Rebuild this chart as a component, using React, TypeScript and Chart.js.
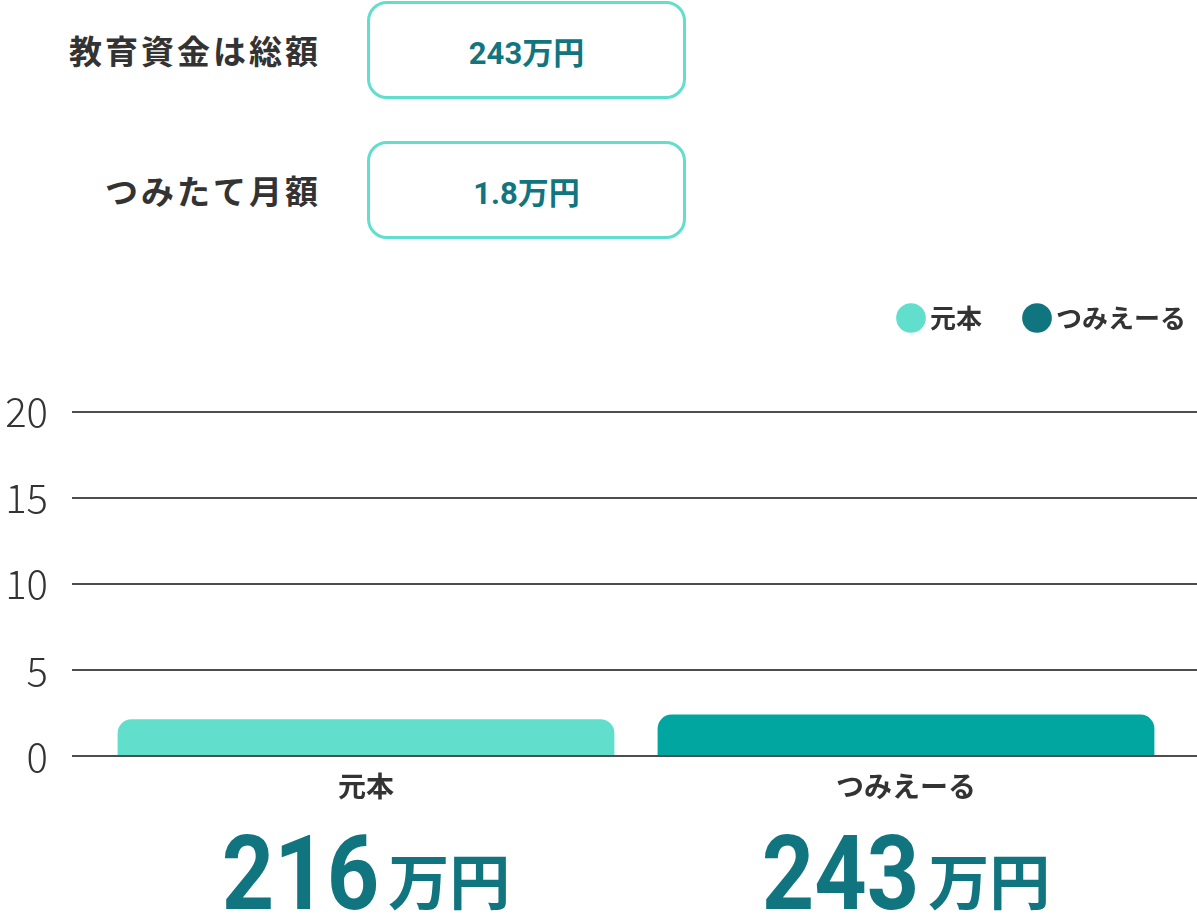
import { useEffect, useRef } from 'react';
import { Chart, registerables } from 'chart.js';

Chart.register(...registerables);

const categories = ['元本', 'つみえーる'];
const barValues = [2.16, 2.43];
const amountLabels = ['216', '243'];
const unitLabel = '万円';
const yTicks = [0, 5, 10, 15, 20];
const barColors = ['#62DFCC', '#02A6A0'];
const legendColors = ['#62DFCC', '#117580'];
const summaryLabels = ['教育資金は総額', 'つみたて月額'];
const summaryValues = ['243万円', '1.8万円'];

const JP = '"Noto Sans CJK JP", "Noto Sans", sans-serif';
const TEXT = '#333333';
const TEAL = '#117580';
const GRID = '#4d4d4d';
const PAGE_W = 1197;

// legend spacing: room under it, and it sits further right than the plot area
const legendPlace = {
  id: 'legendPlace',
  beforeInit(chart: any) {
    const legend = chart.legend;
    if (!legend) return;
    const fit = legend.fit;
    legend.fit = function () {
      fit.bind(legend)();
      this.height += 33;
    };
  },
  afterLayout(chart: any) {
    if (!chart.legend) return;
    chart.legend.right = 1235;
    chart.legend.top -= 38;
  }
};

// grid lines run to the right edge, baseline sits over the bars
const gridExtend = {
  id: 'gridExtend',
  afterDatasetsDraw(chart: any) {
    const { ctx, chartArea, scales } = chart;
    const y = scales.y;
    ctx.save();
    ctx.strokeStyle = GRID;
    ctx.lineWidth = 2;
    y.ticks.forEach((t: any) => {
      const py = Math.round(y.getPixelForValue(t.value));
      ctx.beginPath();
      ctx.moveTo(chartArea.right, py);
      ctx.lineTo(PAGE_W, py);
      ctx.stroke();
    });
    const p0 = Math.round(y.getPixelForValue(0));
    ctx.beginPath();
    ctx.moveTo(chartArea.left - 24, p0);
    ctx.lineTo(PAGE_W, p0);
    ctx.stroke();
    ctx.restore();
  }
};

// big amount labels under each category
const amountText = {
  id: 'amountText',
  afterDraw(chart: any) {
    const { ctx } = chart;
    const meta = chart.getDatasetMeta(0);
    const baseY = chart.height - 12;
    const squeeze = 0.88;
    const numFont = `bold 104px Roboto, ${JP}`;
    const unitFont = `bold 61px ${JP}`;
    ctx.save();
    ctx.fillStyle = TEAL;
    ctx.textBaseline = 'alphabetic';
    ctx.textAlign = 'left';
    meta.data.forEach((bar: any, i: number) => {
      const digits = amountLabels[i];
      ctx.font = numFont;
      const w1 = ctx.measureText(digits).width * squeeze;
      ctx.font = unitFont;
      const w2 = ctx.measureText(unitLabel).width;
      const gap = 9;
      const start = bar.x - (w1 + gap + w2) / 2;
      ctx.save();
      ctx.translate(start, baseY);
      ctx.scale(squeeze, 1);
      ctx.font = numFont;
      ctx.fillText(digits, 0, 0);
      ctx.restore();
      ctx.font = unitFont;
      ctx.fillText(unitLabel, start + w1 + gap, baseY - 4);
    });
    ctx.restore();
  }
};

function BarChart() {
  const ref = useRef<HTMLCanvasElement | null>(null);

  useEffect(() => {
    if (!ref.current) return;
    const chart = new Chart(ref.current, {
      type: 'bar',
      data: {
        labels: categories,
        datasets: [
          {
            label: '金額',
            data: barValues,
            backgroundColor: barColors,
            borderRadius: { topLeft: 14, topRight: 14, bottomLeft: 0, bottomRight: 0 },
            borderSkipped: false,
            barPercentage: 0.92,
            categoryPercentage: 1
          }
        ]
      },
      options: {
        responsive: false,
        animation: false,
        layout: { padding: { top: 34, right: 21, bottom: 113, left: 0 } },
        plugins: {
          tooltip: { enabled: false },
          legend: {
            position: 'top',
            align: 'end',
            labels: {
              usePointStyle: true,
              boxWidth: 12,
              boxHeight: 21,
              padding: 49,
              color: TEXT,
              font: { family: JP, size: 26, weight: 'bold' },
              generateLabels: () =>
                categories.map((c, i) => ({
                  text: c,
                  fillStyle: legendColors[i],
                  strokeStyle: legendColors[i],
                  lineWidth: 0,
                  pointStyle: 'circle',
                  hidden: false,
                  index: i,
                  fontColor: TEXT
                }))
            }
          }
        },
        scales: {
          x: {
            grid: { display: false },
            border: { display: false },
            ticks: {
              color: TEXT,
              padding: 5,
              font: { family: JP, size: 28, weight: 'bold' }
            }
          },
          y: {
            min: 0,
            max: 20,
            afterBuildTicks: (axis: any) => {
              axis.ticks = yTicks.map((v) => ({ value: v }));
            },
            afterFit: (axis: any) => {
              axis.width = 96;
            },
            border: { display: false },
            grid: { color: GRID, lineWidth: 2, tickLength: 24, drawTicks: true },
            ticks: {
              color: TEXT,
              padding: 24,
              font: { family: JP, size: 40, weight: 300 }
            }
          }
        }
      },
      plugins: [legendPlace, gridExtend, amountText]
    });
    return () => chart.destroy();
  }, []);

  return <canvas ref={ref} width={PAGE_W} height={661} style={{ display: 'block' }} />;
}

export default function App() {
  useEffect(() => {
    document.body.style.margin = '0';
  }, []);

  return (
    <div style={{ position: 'relative', width: PAGE_W, height: 921, background: '#fff', overflow: 'hidden' }}>
      {summaryLabels.map((label, i) => (
        <div
          key={label}
          style={{ position: 'absolute', left: 0, top: 1 + i * 140, width: 686, height: 98, display: 'flex' }}
        >
          <div
            style={{
              width: 321,
              display: 'flex',
              alignItems: 'center',
              justifyContent: 'flex-end',
              fontFamily: JP,
              fontWeight: 700,
              fontSize: 33,
              letterSpacing: 3,
              color: TEXT
            }}
          >
            {label}
          </div>
          <div
            style={{
              position: 'absolute',
              left: 367,
              top: 0,
              width: 319,
              height: 98,
              boxSizing: 'border-box',
              border: '3px solid #62DFCC',
              borderRadius: 20,
              display: 'flex',
              alignItems: 'center',
              justifyContent: 'center',
              fontFamily: `Roboto, ${JP}`,
              fontWeight: 700,
              fontSize: 31,
              color: TEAL
            }}
          >
            {summaryValues[i]}
          </div>
        </div>
      ))}
      <div style={{ position: 'absolute', left: 0, top: 260, width: PAGE_W, height: 661 }}>
        <BarChart />
      </div>
    </div>
  );
}
